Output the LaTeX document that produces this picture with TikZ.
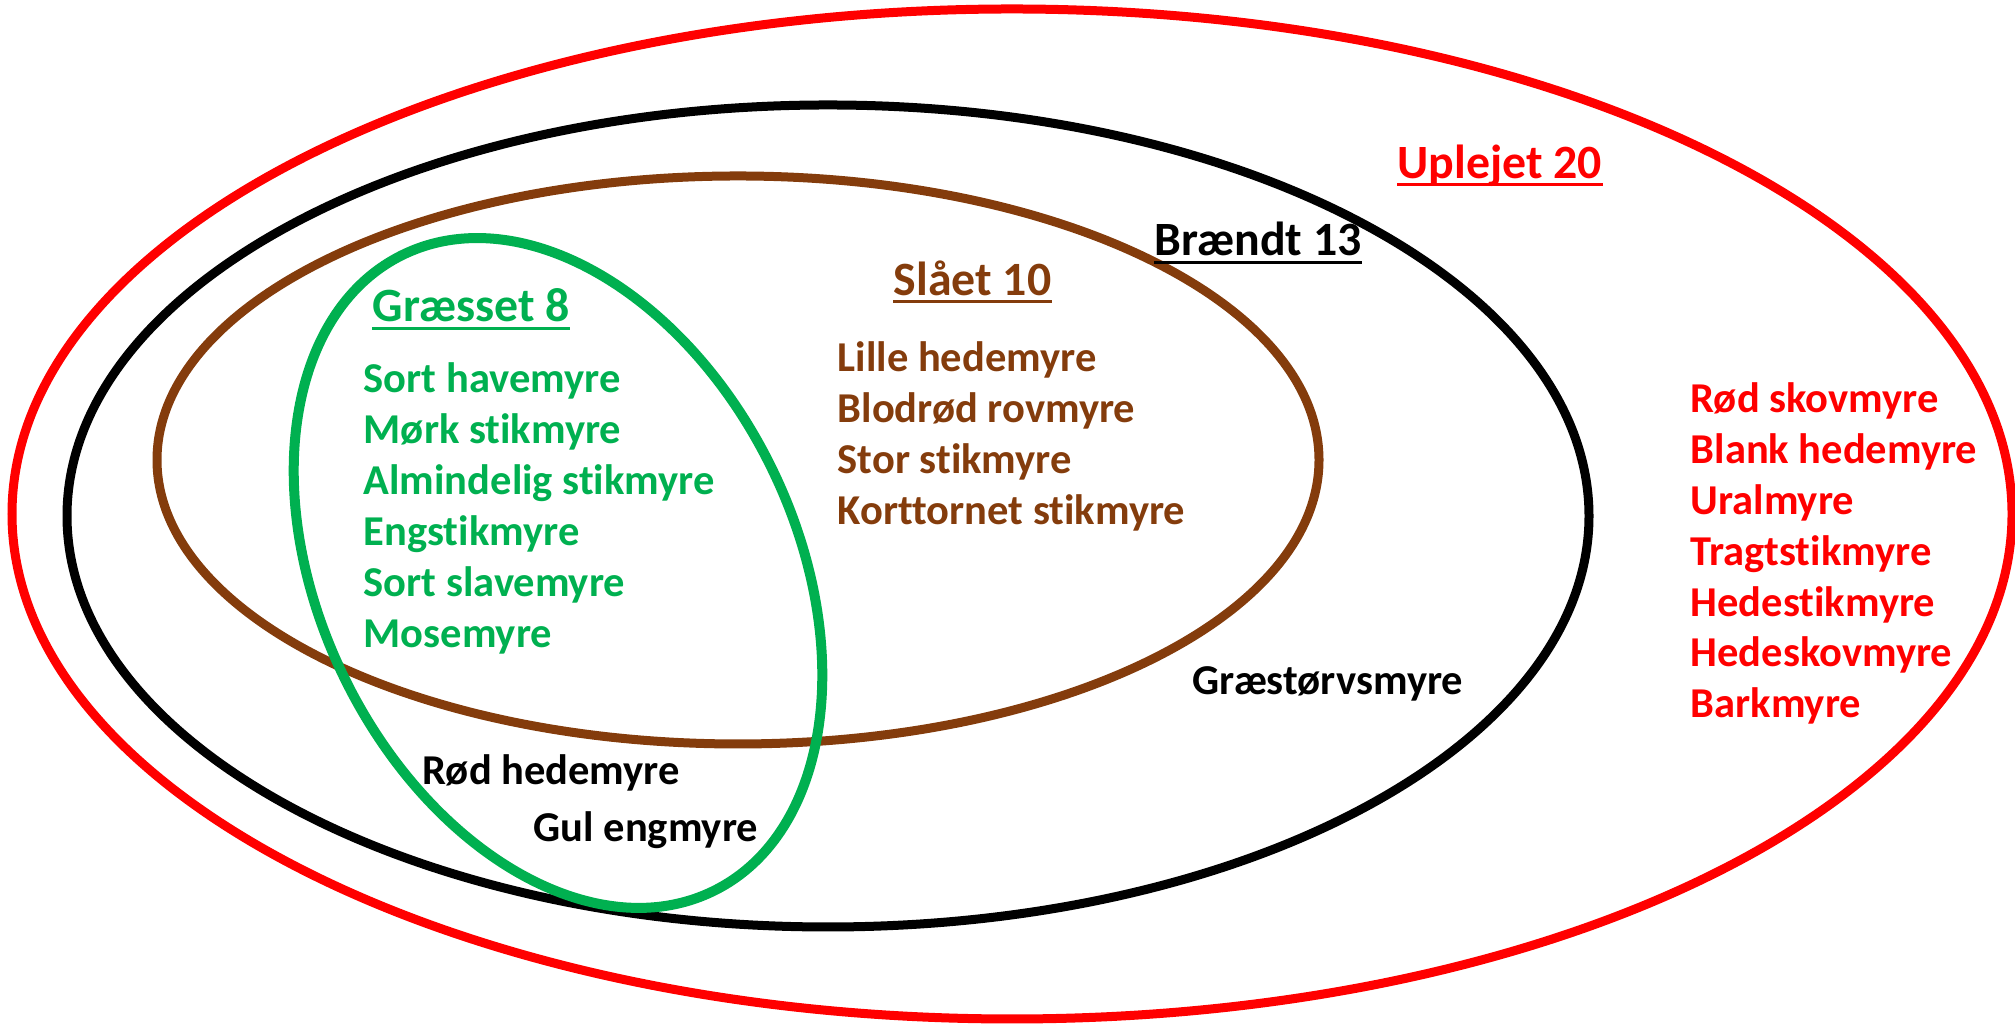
\documentclass[tikz,border=0pt]{standalone}
\usepackage{fontspec}
\setmainfont{Carlito}[Ligatures=NoCommon]
\definecolor{grassgreen}{HTML}{00B050}
\definecolor{mowbrown}{HTML}{843C0C}
\definecolor{unred}{HTML}{FF0000}
\newcommand{\itemfont}{\fontsize{12.1pt}{14pt}\selectfont\bfseries}
\newcommand{\headfont}{\fontsize{13.6pt}{16pt}\selectfont\bfseries}
\tikzset{
	ring/.style={line width=0.09cm},
	species/.style={anchor=base west, inner sep=0pt, font=\itemfont},
	heading/.style={anchor=base west, inner sep=0pt, font=\headfont},
	uline/.style={line width=0.03cm}
}
\begin{document}
\begin{tikzpicture}
	\useasboundingbox (0,0) rectangle (20.15,10.29);
	
	% --- RINGS ---
	\draw[ring, unred] (10.12,5.15) ellipse [x radius=10.0, y radius=5.05];
	\draw[ring, black] (8.28,5.13) ellipse [x radius=7.61, y radius=4.11];
	\draw[ring, mowbrown] (7.38,5.69) ellipse [x radius=5.81, y radius=2.84];
	\draw[ring, grassgreen, line width=0.1cm, rotate around={26:(5.58,4.56)}]
		(5.58,4.56) ellipse [x radius=2.38, y radius=3.54];
	
	% --- HEADINGS ---
	\node[heading, unred] (uplejet) at (13.97,8.50) {Uplejet 20};
	\node[heading, black] (braendt) at (11.54,7.73) {Brændt 13};
	\node[heading, mowbrown] (slaaet) at (8.93,7.33) {Slået 10};
	\node[heading, grassgreen] (graesset) at (3.72,7.07) {Græsset 8};
	
	\draw[uline, unred] ([yshift=-0.06cm]uplejet.base west) -- ([yshift=-0.06cm]uplejet.base east);
	\draw[uline, black] ([yshift=-0.07cm]braendt.base west) -- ([yshift=-0.07cm]braendt.base east);
	\draw[uline, mowbrown] ([yshift=-0.06cm]slaaet.base west) -- ([yshift=-0.06cm]slaaet.base east);
	\draw[uline, grassgreen] ([yshift=-0.07cm]graesset.base west) -- ([yshift=-0.07cm]graesset.base east);
	
	% --- SPECIES ---
	\foreach \sp [count=\i] in {Sort havemyre, Mørk stikmyre, Almindelig stikmyre,
		Engstikmyre, Sort slavemyre, Mosemyre}
		\node[species, grassgreen] (g\i) at (3.63,6.87-0.51*\i) {\sp};
	
	\foreach \sp [count=\i] in {Lille hedemyre, Blodrød rovmyre, Stor stikmyre,
		Korttornet stikmyre}
		\node[species, mowbrown] (s\i) at (8.37,7.08-0.51*\i) {\sp};
	
	\foreach \sp [count=\i] in {Rød skovmyre, Blank hedemyre, Uralmyre,
		Tragtstikmyre, Hedestikmyre, Hedeskovmyre, Barkmyre}
		\node[species, unred] (u\i) at (16.90,6.668-0.508*\i) {\sp};
	
	\node[species, black] (graestorv) at (11.92,3.34) {Græstørvsmyre};
	\node[species, black] (rodhede) at (4.22,2.44) {Rød hedemyre};
	\node[species, black] (gulEng) at (5.33,1.87) {Gul engmyre};
	
\end{tikzpicture}
\end{document}
